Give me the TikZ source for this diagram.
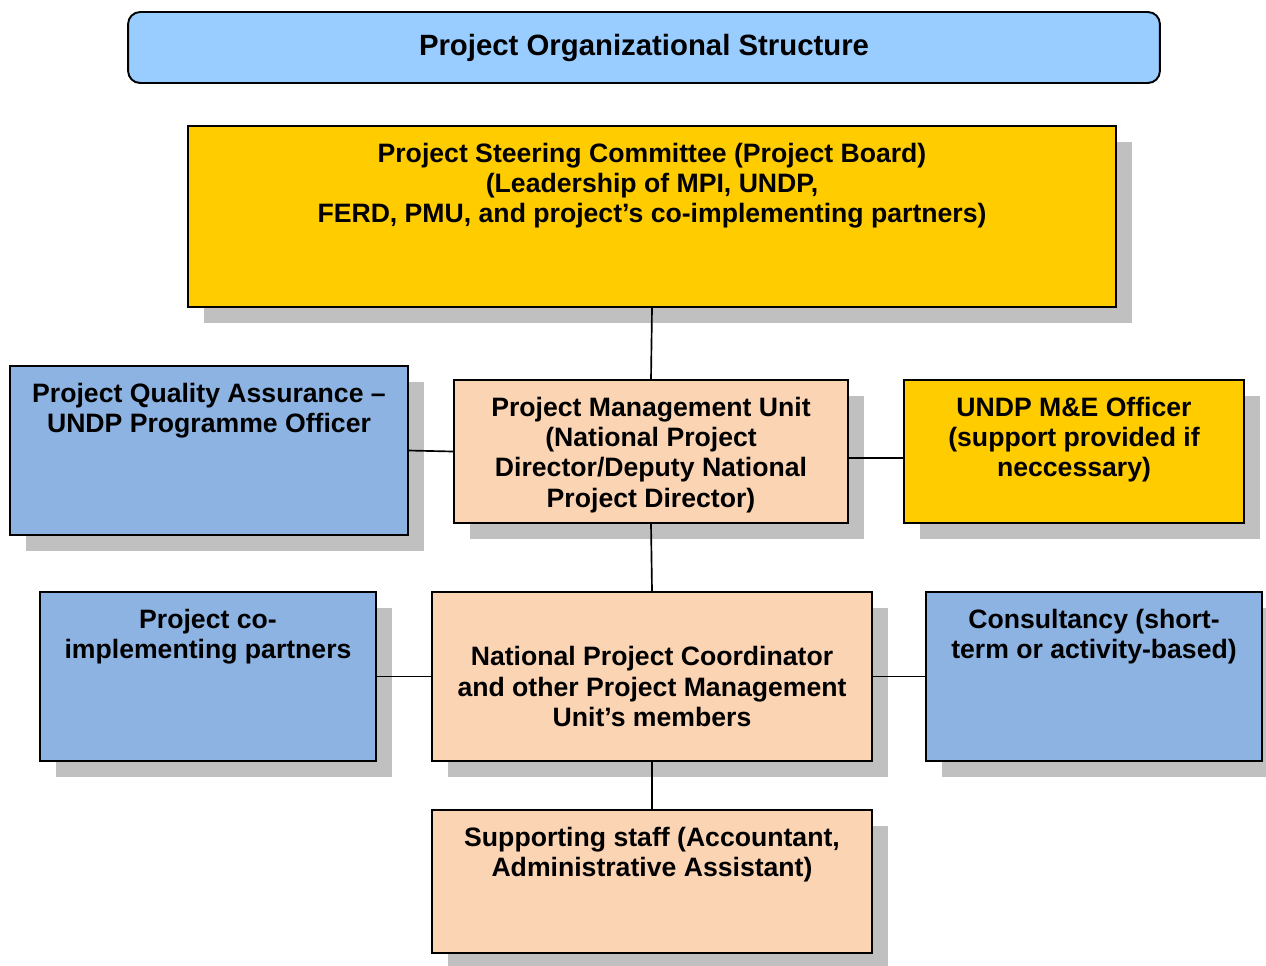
\documentclass[tikz,border=0pt]{standalone}
\usepackage{fontspec}
\setmainfont{Liberation Sans}
\usetikzlibrary{shadows}

\definecolor{titleblue}{HTML}{99CCFF}
\definecolor{boardyellow}{HTML}{FFCC00}
\definecolor{qablue}{HTML}{8DB3E2}
\definecolor{unitpeach}{HTML}{FBD4B4}
\definecolor{shadowgray}{HTML}{C0C0C0}

\tikzset{
    orgbox/.style={draw=black, line width=1.1pt, rectangle, inner sep=0pt,
        drop shadow={shadow xshift=0.32cm, shadow yshift=-0.32cm, fill=shadowgray, opacity=1}},
    orgtext/.style={anchor=north, inner sep=0pt, align=center,
        font=\bfseries\fontsize{15.15}{17.3}\selectfont},
    link/.style={draw=black, line width=0.95pt}
}

\begin{document}
\begin{tikzpicture}[x=0.02cm, y=-0.02cm]
        \useasboundingbox (0,0) rectangle (1266,965);
        \node[draw=black, line width=1.1pt, fill=titleblue, rounded corners=0.24cm, minimum width=20.64cm, minimum height=1.42cm, font=\bfseries\fontsize{16.7}{19}\selectfont] (title) at (644,47.5) {Project Organizational Structure};

        \node[orgbox, fill=boardyellow, minimum width=18.56cm, minimum height=3.62cm] (psc) at (652,216.5) {};
        \node[orgtext] (psctext) at ([yshift=-0.35cm]psc.north) {Project Steering Committee (Project Board)\\(Leadership of MPI, UNDP,\\FERD, PMU, and project’s co-implementing partners)};

        \node[orgbox, fill=qablue, minimum width=7.96cm, minimum height=3.38cm] (pqa) at (209,450.5) {};
        \node[orgtext] (pqatext) at ([yshift=-0.35cm]pqa.north) {Project Quality Assurance –\\UNDP Programme Officer};

        \node[orgbox, fill=unitpeach, minimum width=7.88cm, minimum height=2.86cm] (pmu) at (651,451.5) {};
        \node[orgtext] (pmutext) at ([yshift=-0.35cm]pmu.north) {Project Management Unit\\(National Project\\Director/Deputy National\\Project Director)};

        \node[orgbox, fill=boardyellow, minimum width=6.8cm, minimum height=2.86cm] (me) at (1074,451.5) {};
        \node[orgtext] (metext) at ([yshift=-0.35cm]me.north) {UNDP M\&E Officer\\(support provided if\\neccessary)};

        \node[orgbox, fill=qablue, minimum width=6.72cm, minimum height=3.38cm] (partners) at (208,676.5) {};
        \node[orgtext] (partnerstext) at ([yshift=-0.35cm]partners.north) {Project co-\\implementing partners};

        \node[orgbox, fill=unitpeach, minimum width=8.8cm, minimum height=3.38cm] (npc) at (652,676.5) {};
        \node[orgtext, anchor=center] (npctext) at ([yshift=-0.2cm]npc.center) {National Project Coordinator\\and other Project Management\\Unit’s members};

        \node[orgbox, fill=qablue, minimum width=6.72cm, minimum height=3.38cm] (cons) at (1094,676.5) {};
        \node[orgtext] (constext) at ([yshift=-0.35cm]cons.north) {Consultancy (short-\\term or activity-based)};

        \node[orgbox, fill=unitpeach, minimum width=8.8cm, minimum height=2.86cm] (staff) at (652,881.5) {};
        \node[orgtext] (stafftext) at ([yshift=-0.35cm]staff.north) {Supporting staff (Accountant,\\Administrative Assistant)};

        \draw[link] (psc.south) -- (pmu.north);
        \draw[link] (pqa.east) -- (pmu.west);
        \draw[link] ([yshift=-0.13cm]pmu.east) -- ([yshift=-0.13cm]me.west);
        \draw[link] (pmu.south) -- (npc.north);
        \draw[link] (partners.east) -- (npc.west);
        \draw[link] (npc.east) -- (cons.west);
        \draw[link] (npc.south) -- (staff.north);
    \end{tikzpicture}
\end{document}
